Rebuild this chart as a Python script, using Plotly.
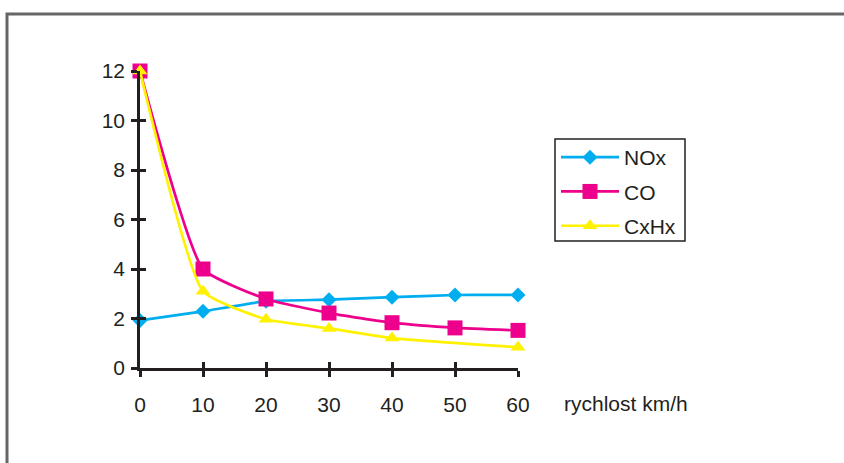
import plotly.graph_objects as go

speed = [0, 10, 20, 30, 40, 50, 60]
nox = [1.92, 2.29, 2.7, 2.76, 2.86, 2.95, 2.95]
co = [12.0, 4.0, 2.79, 2.22, 1.83, 1.62, 1.52]
cxhx = [12.0, 3.1, 1.97, 1.6, 1.21, None, 0.84]

x_ticks = [0, 10, 20, 30, 40, 50, 60]
y_ticks = [0, 2, 4, 6, 8, 10, 12]

FONT = "Liberation Sans Narrow, Arial Narrow, Arial, sans-serif"
FS = 21
AX = "#231F20"
SM = 0.45


def px_x(p):
    return (p - 140) / 378


def px_y(p):
    return (368 - p) / 297


fig = go.Figure()
fig.add_trace(go.Scatter(x=speed, y=nox, name="NOx", mode="lines+markers", legendgroup="a",
                         line=dict(color="#00AEEF", width=2.7, shape="spline", smoothing=SM),
                         marker=dict(symbol="diamond", size=11.5, color="#00AEEF"),
                         cliponaxis=False))
fig.add_trace(go.Scatter(x=speed, y=co, name="CO", mode="lines+markers", legendgroup="b",
                         line=dict(color="#EC008C", width=2.7, shape="spline", smoothing=SM),
                         marker=dict(symbol="square", size=15, color="#EC008C"),
                         cliponaxis=False))
fig.add_trace(go.Scatter(x=speed, y=cxhx, name="CxHx", mode="lines+markers", legendgroup="c",
                         connectgaps=True,
                         line=dict(color="#FFF200", width=2.7, shape="spline", smoothing=SM),
                         marker=dict(symbol="triangle-up", size=13, color="#FFF200"),
                         cliponaxis=False))
# helper trace for overlay axes (inner half of cross ticks)
fig.add_trace(go.Scatter(x=[None], y=[None], xaxis="x2", yaxis="y2",
                         showlegend=False, hoverinfo="skip"))

fig.update_layout(
    width=844, height=463,
    margin=dict(l=140, r=326, t=71, b=95),
    paper_bgcolor="white", plot_bgcolor="white",
    font=dict(family=FONT, size=FS, color=AX),
    showlegend=True,
    legend=dict(x=px_x(556), y=px_y(137), xanchor="left", yanchor="top",
                bgcolor="rgba(0,0,0,0)", borderwidth=0,
                traceorder="grouped", tracegroupgap=4, itemwidth=58,
                font=dict(family=FONT, size=FS, color=AX)),
    xaxis=dict(range=[0, 60], tickvals=x_ticks, showgrid=False, zeroline=False,
               showline=True, linecolor=AX, linewidth=2.5,
               ticks="outside", ticklen=6, tickwidth=2.5, tickcolor=AX,
               ticklabelstandoff=10),
    yaxis=dict(range=[0, 12], tickvals=y_ticks, showgrid=False, zeroline=False,
               showline=True, linecolor=AX, linewidth=2.5,
               ticks="outside", ticklen=6, tickwidth=2.5, tickcolor=AX,
               ticklabelstandoff=2),
    xaxis2=dict(range=[0, 60], tickvals=x_ticks, overlaying="x", anchor="y2",
                showgrid=False, zeroline=False, showline=False, showticklabels=False,
                ticks="inside", ticklen=6, tickwidth=2.5, tickcolor=AX),
    yaxis2=dict(range=[0, 12], tickvals=y_ticks, overlaying="y", anchor="x2",
                showgrid=False, zeroline=False, showline=False, showticklabels=False,
                ticks="inside", ticklen=6, tickwidth=2.5, tickcolor=AX),
    shapes=[
        dict(type="rect", xref="paper", yref="paper",
             x0=px_x(7), x1=2.0, y0=-1.0, y1=px_y(14),
             line=dict(color="#666666", width=3), layer="below"),
        dict(type="rect", xref="paper", yref="paper",
             x0=px_x(555), x1=px_x(685), y0=px_y(241), y1=px_y(139),
             line=dict(color=AX, width=1.5), fillcolor="white", layer="below"),
    ],
    annotations=[dict(text="rychlost km/h", xref="paper", yref="paper",
                      x=px_x(562), y=px_y(403),
                      xanchor="left", yanchor="middle", showarrow=False,
                      font=dict(family=FONT, size=FS, color=AX))],
)

fig.write_html("out.html", config={"displayModeBar": False},
               post_script="document.body.style.margin='0';")
